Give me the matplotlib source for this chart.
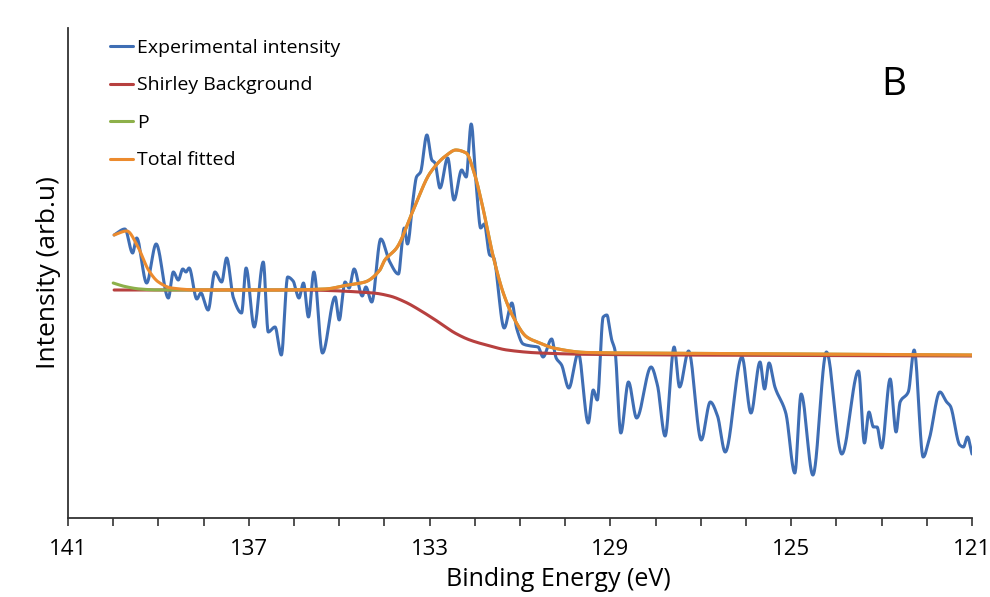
import numpy as np
import matplotlib
matplotlib.use("Agg")
import matplotlib.pyplot as plt
from matplotlib.ticker import FixedLocator, MultipleLocator

# --------------------------------------------------
# DATA (binding energy in eV)
# --------------------------------------------------
be_exp = [139.98, 139.74, 139.57, 139.48, 139.26, 139.05, 138.78, 138.67, 138.56, 138.46,
          138.39, 138.32, 138.15, 138.06, 137.90, 137.75, 137.60, 137.49, 137.34, 137.16,
          137.06, 136.88, 136.68, 136.57, 136.42, 136.28, 136.14, 136.02, 135.89, 135.79,
          135.68, 135.56, 135.37, 135.09, 135.00, 134.87, 134.78, 134.67, 134.49, 134.41,
          134.28, 134.08, 133.88, 133.69, 133.56, 133.49, 133.36, 133.29, 133.20, 133.06,
          132.95, 132.88, 132.77, 132.60, 132.46, 132.29, 132.19, 132.08, 131.96, 131.87,
          131.79, 131.67, 131.59, 131.35, 131.18, 131.07, 130.93, 130.76, 130.60, 130.49,
          130.30, 130.20, 130.08, 129.92, 129.71, 129.49, 129.38, 129.29, 129.16, 129.08,
          128.97, 128.90, 128.77, 128.60, 128.42, 128.10, 127.96, 127.79, 127.59, 127.47,
          127.27, 126.99, 126.79, 126.63, 126.46, 126.09, 125.89, 125.69, 125.59, 125.49,
          125.36, 125.12, 124.92, 124.78, 124.52, 124.22, 123.88, 123.51, 123.38, 123.28,
          123.18, 123.10, 123.00, 122.81, 122.68, 122.59, 122.41, 122.28, 122.08, 121.94,
          121.71, 121.56, 121.48, 121.27, 121.19, 121.10, 121.00]
int_exp = [283, 289, 265, 280, 235, 274, 220, 246, 238, 249,
           246, 250, 219, 225, 208, 246, 236, 260, 220, 205,
           250, 191, 256, 186, 191, 163, 241, 237, 220, 235,
           201, 246, 165, 221, 198, 236, 230, 249, 222, 231,
           216, 279, 256, 244, 290, 274, 321, 341, 346, 383,
           358, 355, 330, 360, 318, 348, 341, 394, 328, 290,
           294, 263, 261, 190, 215, 189, 174, 172, 171, 161,
           179, 160, 153, 130, 165, 95, 128, 118, 201, 203,
           178, 168, 85, 136, 100, 151, 133, 82, 171, 131,
           167, 78, 116, 102, 66, 161, 105, 156, 129, 155,
           131, 105, 45, 124, 43, 166, 64, 147, 75, 106,
           91, 91, 70, 139, 86, 116, 126, 168, 61, 80,
           126, 116, 112, 73, 71, 81, 64]

be_shirley = [139.98, 135.87, 134.25, 133.88, 133.54, 133.15, 132.77, 132.44, 132.11,
              131.66, 131.29, 130.56, 129.23, 121.00]
int_shirley = [228, 228, 225, 222, 216, 206, 195, 185, 178, 172, 168, 165, 163.5, 162]

be_fit = [139.98, 139.70, 139.44, 139.22, 139.00, 138.71, 138.08, 136.42, 135.31, 134.81,
          134.43, 134.10, 133.99, 133.73, 133.36, 132.99, 132.62, 132.42, 132.19, 132.00,
          131.81, 131.59, 131.37, 131.15, 130.85, 130.56, 130.26, 129.52, 127.02, 121.00]
int_fit = [283, 287, 270, 248, 236, 230, 228, 228, 229, 233,
           236, 248, 258, 270, 308, 345, 363, 368, 365, 343,
           308, 261, 225, 201, 181, 175, 170, 165.5, 164.5, 163]

be_p = [140.00, 139.74, 139.41, 138.96, 138.08, 136.42, 135.31, 134.81, 134.43, 134.10,
        133.99, 133.73, 133.36, 132.99, 132.62, 132.42, 132.19, 132.00, 131.81, 131.59,
        131.37, 131.15, 130.85, 130.56, 130.26, 129.52, 127.02, 121.00]
int_p = [235, 231.5, 229, 228, 228, 228, 229, 233, 236, 248,
         258, 270, 308, 345, 363, 368, 365, 343, 308, 261,
         225, 201, 181, 175, 170, 165.5, 164.5, 163]

x_ticks = [141, 137, 133, 129, 125, 121]
labels = ["Experimental intensity", "Shirley Background", "P", "Total fitted"]
colors = ["#3F6EB4", "#B7403F", "#8DB04A", "#EC8B2E"]


def smooth_line(x, y, n=3000):
    # monotone cubic (pchip) through the points, like Excel's smoothed line
    x = np.asarray(x, float)[::-1]
    y = np.asarray(y, float)[::-1]
    h = np.diff(x)
    d = np.diff(y) / h
    m = np.zeros_like(y)
    m[0], m[-1] = d[0], d[-1]
    for k in range(1, len(x) - 1):
        if d[k - 1] * d[k] > 0:
            w1 = 2 * h[k] + h[k - 1]
            w2 = h[k] + 2 * h[k - 1]
            m[k] = (w1 + w2) / (w1 / d[k - 1] + w2 / d[k])
    xn = np.linspace(x[0], x[-1], n)
    i = np.clip(np.searchsorted(x, xn) - 1, 0, len(x) - 2)
    t = (xn - x[i]) / h[i]
    h00 = 2 * t**3 - 3 * t**2 + 1
    h10 = t**3 - 2 * t**2 + t
    h01 = -2 * t**3 + 3 * t**2
    h11 = t**3 - t**2
    yn = h00 * y[i] + h10 * h[i] * m[i] + h01 * y[i + 1] + h11 * h[i] * m[i + 1]
    return xn, yn


plt.rcParams["font.family"] = ["Open Sans", "DejaVu Sans"]

fig = plt.figure(figsize=(9.9, 5.97), dpi=100)
ax = fig.add_axes([68 / 990, 1 - 518 / 597, 904 / 990, 490 / 597])

series = [(be_exp, int_exp), (be_shirley, int_shirley), (be_p, int_p), (be_fit, int_fit)]
for (x, y), lab, col in zip(series, labels, colors):
    xs, ys = smooth_line(x, y)
    ax.plot(xs, ys, color=col, lw=2.2, label=lab, solid_capstyle="round")

ax.set_xlim(141, 121)
ax.set_ylim(0, 490)

ax.xaxis.set_major_locator(FixedLocator(x_ticks))
ax.xaxis.set_minor_locator(MultipleLocator(1))
ax.tick_params(axis="x", which="both", direction="out", length=6, width=1.2,
               colors="#333333", labelcolor="black", labelsize=16, pad=9)
ax.set_yticks([])

for s in ["top", "right"]:
    ax.spines[s].set_visible(False)
for s in ["left", "bottom"]:
    ax.spines[s].set_color("#333333")
    ax.spines[s].set_linewidth(1.3)

ax.set_xlabel("Binding Energy (eV)", fontsize=18)
ax.xaxis.set_label_coords(0.542, -0.1)
ax.set_ylabel("Intensity (arb.u)", fontsize=19)
ax.yaxis.set_label_coords(-0.008, 0.5)

ax.text(0.913, 0.884, "B", transform=ax.transAxes, fontsize=28,
        ha="center", va="center")

ax.legend(loc="upper left", bbox_to_anchor=(110 / 990, 1 - 39 / 597),
          bbox_transform=fig.transFigure, frameon=False, fontsize=14,
          handlelength=1.2, handletextpad=0.2, labelspacing=1.0,
          borderaxespad=0, borderpad=0)

fig.savefig("out.png", dpi=100)
